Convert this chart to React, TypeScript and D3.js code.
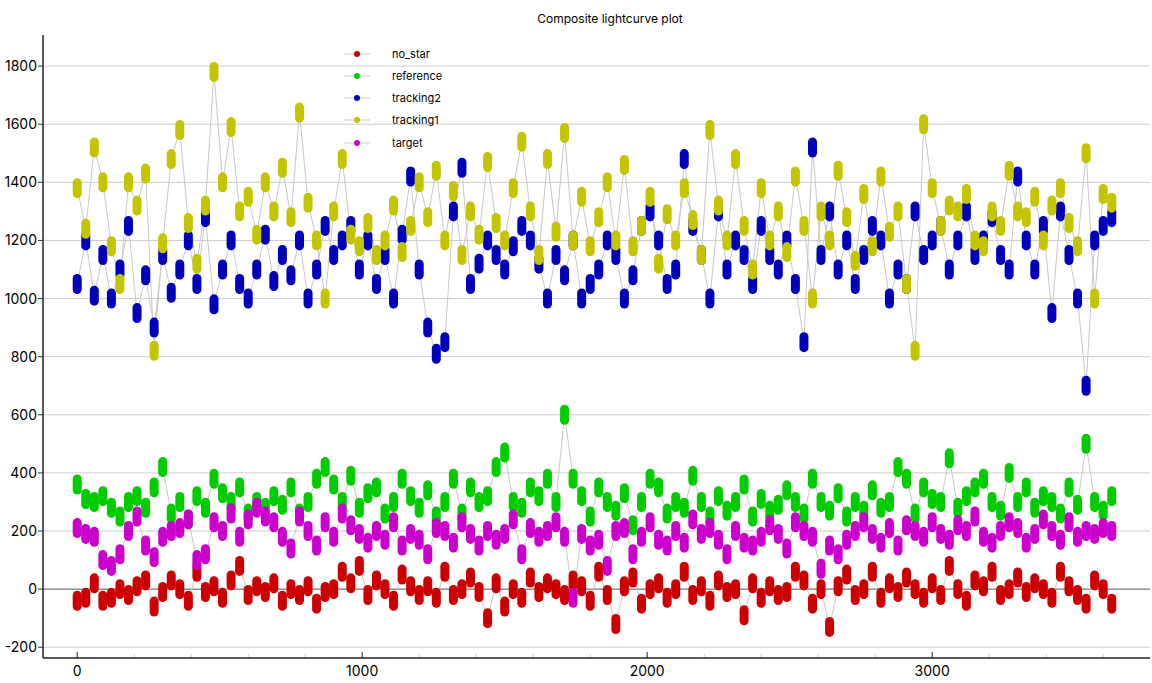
import React from "react";
import * as d3 from "d3";

const times = d3.range(0, 3640, 30);
const tracking1 = [1380,1240,1520,1400,1180,1050,1400,1320,1430,820, 1190,1480,1580,1260,1120,1320,1780,1400,1590,1300, 1350,1220,1400,1300,1450,1280,1640,1330,1200,1000, 1300,1480,1220,1180,1260,1150,1200,1320,1160,1250, 1400,1280,1440,1200,1370,1150,1300,1220,1470,1260, 1200,1380,1540,1300,1150,1480,1230,1570,1200,1350, 1180,1280,1400,1200,1460,1180,1250,1350,1120,1290, 1200,1380,1270,1150,1580,1320,1200,1480,1250,1100, 1380,1200,1300,1160,1420,1250,1000,1300,1200,1440, 1280,1130,1360,1180,1420,1230,1300,1050,820,1600, 1380,1250,1320,1300,1360,1200,1180,1300,1250,1440, 1300,1280,1350,1200,1320,1380,1260,1180,1500,1000, 1360,1330];
const tracking2 = [1050,1200,1010,1150,1000,1100,1250,950,1080,900, 1150,1020,1100,1200,1050,1280,980,1100,1200,1050, 1000,1100,1220,1060,1150,1080,1200,1000,1100,1250, 1150,1200,1250,1100,1200,1050,1150,1000,1220,1420, 1100,900,810,850,1300,1450,1050,1120,1200,1150, 1100,1180,1250,1200,1120,1000,1150,1080,1200,1000, 1050,1100,1200,1150,1000,1080,1250,1300,1200,1050, 1100,1480,1250,1150,1000,1300,1100,1200,1150,1050, 1250,1150,1100,1200,1050,850,1520,1150,1300,1100, 1200,1050,1150,1250,1200,1000,1100,1050,1300,1150, 1200,1250,1100,1200,1300,1150,1200,1280,1150,1100, 1420,1200,1100,1250,950,1300,1150,1000,700,1200, 1250,1280];
const reference = [360,310,300,320,280,250,300,320,280,350, 420,260,300,240,320,280,380,330,300,350, 260,300,280,320,290,350,260,300,380,420, 360,300,390,280,330,350,260,300,380,320, 280,340,250,300,380,260,350,300,320,420, 470,300,280,350,320,380,300,600,380,320, 250,350,300,270,330,220,300,380,350,260, 300,280,390,300,250,320,270,300,360,250, 310,270,290,340,300,260,380,300,270,330, 250,300,270,340,280,300,420,380,260,350, 310,300,450,280,320,350,380,300,270,400, 300,350,280,320,300,260,350,290,500,300, 270,320];
const target = [210,190,180,100,80,120,200,250,150,110, 180,200,210,240,100,120,230,200,260,180, 240,280,250,230,180,140,250,200,150,230, 180,260,220,190,160,200,170,230,150,190, 170,120,210,200,160,230,190,150,200,170, 190,240,120,210,180,200,230,180,-30,190, 150,170,80,200,210,120,180,230,170,150, 200,160,240,190,210,170,120,200,160,150, 180,220,190,140,230,200,180,70,150,120, 170,200,230,190,160,210,150,220,200,180, 230,190,170,220,200,250,180,160,200,230, 210,160,190,240,200,170,230,180,200,190, 210,200];
const noStar = [-40,-30,20,-40,-30,0,-20,10,30,-60, -10,30,0,-40,60,-10,10,-30,30,80, -20,10,-10,20,-40,0,-20,10,-50,-10, 0,60,20,80,-20,30,0,-40,50,10, -20,10,-30,60,-20,0,40,-10,-100,20, -60,0,-30,40,-10,20,0,-20,30,10, -40,60,-20,-120,10,40,-50,0,20,-30, 0,60,-20,10,-40,30,-10,0,-90,20, -30,10,-20,-10,60,30,-50,0,-130,10, 50,-20,0,60,-30,20,-10,40,0,-30, 20,-20,80,0,-40,30,10,60,-20,0, 40,-10,20,0,-30,60,10,-20,-50,30, 0,-50];

const series = [
  { name: "no_star", values: noStar, color: "#cc0000" },
  { name: "reference", values: reference, color: "#00cc00" },
  { name: "tracking2", values: tracking2, color: "#0000bb" },
  { name: "tracking1", values: tracking1, color: "#c4c400" },
  { name: "target", values: target, color: "#cc00cc" },
];
const yTicks = [-200, 0, 200, 400, 600, 800, 1000, 1200, 1400, 1600, 1800];
const xTicks = [0, 1000, 2000, 3000];
const xMinor = d3.range(0, 3700, 200);

export default function App() {
  const W = 1152, H = 683;
  const L = 43, B = 658, T = 35, R = 1150;
  const x = d3.scaleLinear().domain([-120, 3780]).range([L, L + 3900 * 0.285]);
  const y = d3.scaleLinear().domain([-237, 1907]).range([B, T]);
  const line = d3.line<number>().x((_, i) => x(times[i])).y((v) => y(v));
  return (
    <svg width={W} height={H} style={{ position: "absolute", left: 0, top: 0, fontFamily: "Inter, 'Noto Sans', sans-serif" }}>
      <rect width={W} height={H} fill="#fff" />
      <text x={610} y={23} textAnchor="middle" fontSize={12}>Composite lightcurve plot</text>
      {yTicks.map((t) => (
        <g key={t}>
          <line x1={L} x2={R} y1={y(t)} y2={y(t)} stroke={t === 0 ? "#555" : "#ccc"} strokeWidth={1} />
          <line x1={L - 5} x2={L} y1={y(t)} y2={y(t)} stroke="#333" />
          <text x={L - 6} y={y(t) + 5} textAnchor="end" fontSize={14}>{t}</text>
        </g>
      ))}
      {xMinor.map((t) => (
        <line key={t} x1={x(t)} x2={x(t)} y1={B} y2={B - 4} stroke="#ccc" />
      ))}
      {xTicks.map((t) => (
        <g key={t}>
          <line x1={x(t)} x2={x(t)} y1={B} y2={B - 6} stroke="#333" />
          <text x={x(t)} y={B + 18} textAnchor="middle" fontSize={14}>{t}</text>
        </g>
      ))}
      <line x1={L} x2={L} y1={T} y2={B} stroke="#222" strokeWidth={1.5} />
      <line x1={L} x2={R} y1={B} y2={B} stroke="#222" strokeWidth={1.5} />
      {series.map((s) => (
        <path key={s.name + "l"} d={line(s.values) || ""} fill="none" stroke="#c8c8c8" strokeWidth={1} />
      ))}
      {series.map((s) => (
        <g key={s.name} fill={s.color}>
          {s.values.map((v, i) => (
            <rect key={i} x={x(times[i]) - 4.5} y={y(v) - 10} width={9} height={20} rx={4.5} />
          ))}
        </g>
      ))}
      {series.map((s, i) => {
        const ly = [54, 76, 98, 120, 143][i];
        return (
          <g key={s.name + "lg"}>
            <line x1={344} x2={370} y1={ly} y2={ly} stroke="#ccc" />
            <circle cx={357} cy={ly} r={3} fill={s.color} />
            <text x={392} y={ly + 4} fontSize={11}>{s.name}</text>
          </g>
        );
      })}
    </svg>
  );
}
